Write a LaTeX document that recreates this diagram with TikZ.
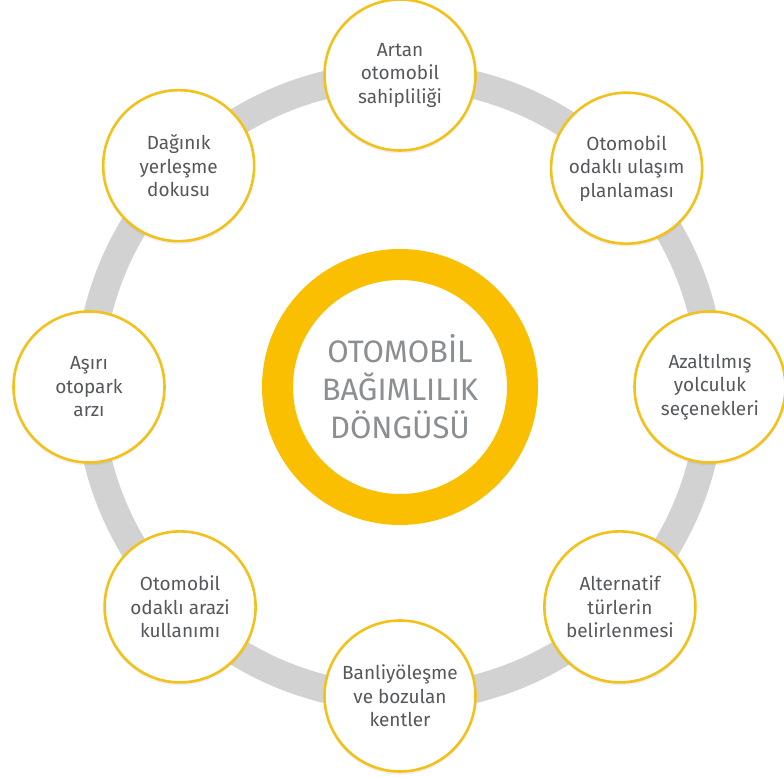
\documentclass[tikz,border=0pt]{standalone}
\usepackage{fontspec}
\setmainfont{Fira Sans}
\usetikzlibrary{calc,positioning,shadows}
\definecolor{ringgray}{HTML}{D2D2D2}
\definecolor{cycleyellow}{HTML}{F9BF00}
\definecolor{edgeyellow}{HTML}{F2C11C}
\definecolor{textgray}{HTML}{55585C}
\definecolor{titlegray}{HTML}{8C8F92}
\tikzset{
  ring/.style  = {draw=ringgray, line width=28pt},
  hub/.style   = {circle, draw=cycleyellow, line width=31pt, fill=white,
                  minimum size=245pt, inner sep=0pt, align=center,
                  font=\fontsize{31}{38}\selectfont, text=titlegray},
  stage/.style = {circle, draw=edgeyellow, line width=2.6pt, fill=white,
                  minimum size=151pt, inner sep=0pt, align=center,
                  font=\fontsize{19}{23.5}\selectfont, text=textgray,
                  drop shadow={opacity=0.12, shadow xshift=0pt, shadow yshift=-3pt}},
}
\begin{document}
\begin{tikzpicture}[x=1pt,y=1pt]
  \useasboundingbox (0,0) rectangle (784,776);
  \coordinate (c) at (400,389);
  % gray cycle behind everything
  \draw[ring] (c) circle (311);
  \node[hub] (title) at (c) {OTOMOB\.{I}L\\BAĞIMLILIK\\DÖNGÜSÜ};
  % the eight stages, clockwise from the top
  \node[stage] (sahip)     at ($(c)+(90:312)$)   {Artan\\otomobil\\sahipliliği};
  \node[stage] (planlama)  at ($(c)+(44:315)$)   {Otomobil\\odaklı ulaşım\\planlaması};
  \node[stage] (secenek)   at ($(c)+(0:310)$)    {Azaltılmış\\yolculuk\\seçenekleri};
  \node[stage] (alternatif) at ($(c)+(-45:311)$) {Alternatif\\türlerin\\belirlenmesi};
  \node[stage] (banliyo)   at ($(c)+(-90:309)$)  {Banliyöleşme\\ve bozulan\\kentler};
  \node[stage] (arazi)     at ($(c)+(-135:311)$) {Otomobil\\odaklı arazi\\kullanımı};
  \node[stage] (otopark)   at ($(c)+(180:311)$)  {Aşırı\\otopark\\arzı};
  \node[stage] (daginik)   at ($(c)+(135:313)$)  {Dağınık\\yerleşme\\dokusu};
\end{tikzpicture}
\end{document}
